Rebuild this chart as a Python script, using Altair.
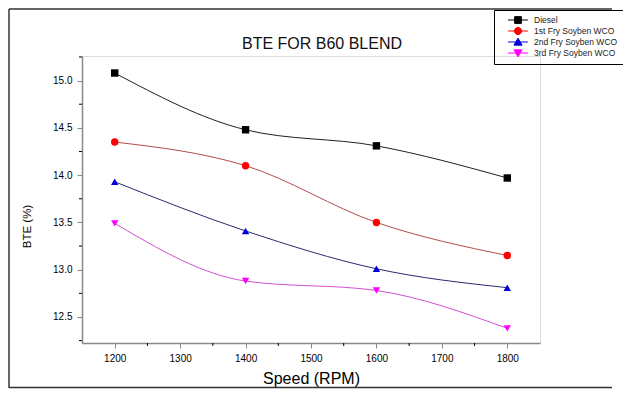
import altair as alt
import pandas as pd

speed = [1200, 1400, 1600, 1800]
diesel = [15.08, 14.48, 14.31, 13.97]
fry1 = [14.35, 14.10, 13.50, 13.15]
fry2 = [13.93, 13.41, 13.01, 12.81]
fry3 = [13.49, 12.88, 12.78, 12.38]

series_names = ["Diesel", "1st Fry Soyben WCO", "2nd Fry Soyben WCO", "3rd Fry Soyben WCO"]
marker_colors = ["#000000", "#ff0000", "#0000dd", "#ff00ff"]
line_colors = ["#202020", "#b84a4a", "#2a2a70", "#d050d0"]
shapes = ["square", "circle", "triangle-up", "triangle-down"]
legend_paths = [
    "M-2.2,0H2.2M-0.75,-0.75H0.75V0.75H-0.75Z",
    "M-2.2,0H2.2M-0.8,0A0.8,0.8,0,1,0,0.8,0A0.8,0.8,0,1,0,-0.8,0Z",
    "M-2.2,0H2.2M0,-0.85L0.9,0.7H-0.9Z",
    "M-2.2,0H2.2M0,0.85L0.9,-0.7H-0.9Z",
]
title_text = "BTE FOR B60 BLEND"

x_minor = [1250, 1350, 1450, 1550, 1650, 1750]
y_minor = [12.25, 12.75, 13.25, 13.75, 14.25, 14.75, 15.25]

rows = []
for name, vals in zip(series_names, [diesel, fry1, fry2, fry3]):
    for s, v in zip(speed, vals):
        rows.append({"speed": s, "bte": v, "series": name})
df = pd.DataFrame(rows)

FONT = "Liberation Sans"
xscale = alt.Scale(domain=[1150, 1850], nice=False, zero=False)
yscale = alt.Scale(domain=[12.225, 15.26], nice=False, zero=False)

x_enc = alt.X("speed:Q", scale=xscale,
              axis=alt.Axis(title="Speed (RPM)", values=[1200, 1300, 1400, 1500, 1600, 1700, 1800],
                            format="d", grid=False, tickSize=5, domainWidth=1.5,
                            titleFontSize=16, titleFontWeight="normal", titlePadding=7, labelPadding=5))
y_enc = alt.Y("bte:Q", scale=yscale,
              axis=alt.Axis(title="BTE (%)", values=[12.5, 13.0, 13.5, 14.0, 14.5, 15.0],
                            format=".1f", grid=False, tickSize=5, domainWidth=1.5,
                            titleFontSize=11.5, titleFontWeight="normal", titleX=-55, titleY=170,
                            titleAngle=-90, titleAlign="center", titleBaseline="middle",
                            labelPadding=5))

base = alt.Chart(df)

lines = base.mark_line(interpolate="monotone", strokeWidth=1).encode(
    x=x_enc, y=y_enc,
    stroke=alt.Stroke("series:N", scale=alt.Scale(domain=series_names, range=line_colors), legend=None),
    detail="series:N",
)

points = base.mark_point(filled=True, size=55, opacity=1).encode(
    x="speed:Q", y="bte:Q",
    color=alt.Color("series:N", scale=alt.Scale(domain=series_names, range=marker_colors), legend=None),
    shape=alt.Shape("series:N", scale=alt.Scale(domain=series_names, range=shapes), legend=None),
)

legend_layer = base.mark_point(filled=True, size=81, strokeWidth=1, opacity=1).encode(
    x="speed:Q", y="bte:Q",
    fill=alt.Fill("series:N", scale=alt.Scale(domain=series_names, range=marker_colors),
                  legend=alt.Legend(title=None, orient="none", legendX=412, legendY=-46,
                                    labelFontSize=8.5, labelFont=FONT, labelColor="#222",
                                    symbolSize=81, symbolStrokeWidth=1, rowPadding=-4,
                                    padding=5, strokeColor="#000", labelOffset=11,
                                    symbolOffset=14, symbolOpacity=1)),
    stroke=alt.Stroke("series:N", scale=alt.Scale(domain=series_names, range=marker_colors), legend=None),
    shape=alt.Shape("series:N", scale=alt.Scale(domain=series_names, range=legend_paths),
                    legend=alt.Legend(title=None, orient="none", legendX=412, legendY=-46,
                                      labelFontSize=8.5, symbolSize=81)),
).transform_filter("false")

xminor = alt.Chart(pd.DataFrame({"v": x_minor})).mark_rule(color="black", strokeWidth=1).encode(
    x=alt.X("v:Q", scale=xscale), y=alt.value(287), y2=alt.value(290))
yminor = alt.Chart(pd.DataFrame({"v": y_minor})).mark_rule(color="black", strokeWidth=1).encode(
    y=alt.Y("v:Q", scale=yscale), x=alt.value(0), x2=alt.value(-3))

one = pd.DataFrame({"t": [title_text]})
title = alt.Chart(one).mark_text(font=FONT, fontSize=16, color="#111", baseline="alphabetic",
                                 align="center").encode(
    text="t:N", x=alt.value(240), y=alt.value(-7))
frame_left = alt.Chart(one).mark_rule(color="#333", strokeWidth=1.5).encode(
    x=alt.value(-73), y=alt.value(-47), y2=alt.value(332))
frame_top = alt.Chart(one).mark_rule(color="#333", strokeWidth=1.5).encode(
    x=alt.value(-73), x2=alt.value(530), y=alt.value(-47))
frame_bottom = alt.Chart(one).mark_rule(color="#333", strokeWidth=1.5).encode(
    x=alt.value(-73), x2=alt.value(530), y=alt.value(331.5))

chart = alt.layer(lines, points, legend_layer, xminor, yminor, title,
                  frame_left, frame_top, frame_bottom).resolve_scale(
    shape="independent", color="independent", stroke="independent", fill="independent"
).properties(
    width=458, height=287,
    autosize=alt.AutoSizeParams(type="none"),
    padding={"left": 74, "top": 48, "right": 83, "bottom": 46},
).configure_view(stroke=None).configure_axis(
    labelFont=FONT, titleFont=FONT, labelFontSize=13, labelColor="#333", titleColor="#111",
    titleFontWeight="normal", domainColor="#000", tickColor="#000",
).configure(font=FONT)

chart.save("out.html", embed_options={"renderer": "svg", "actions": False})
